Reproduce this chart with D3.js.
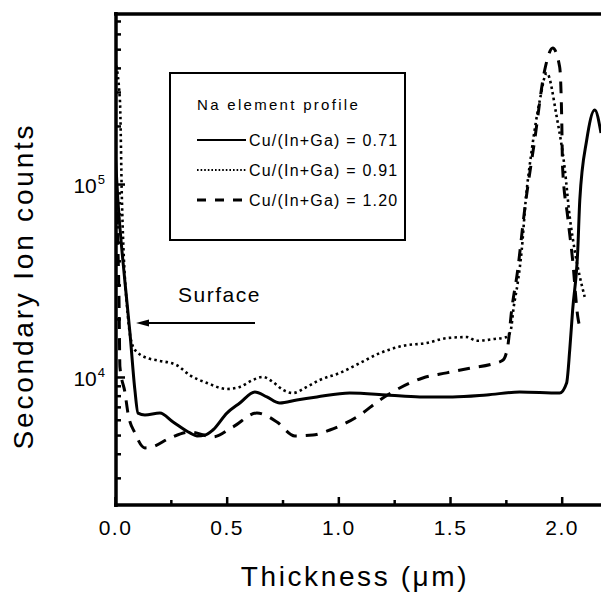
<!DOCTYPE html>
<html>
<head>
<meta charset="utf-8">
<script src="https://cdn.jsdelivr.net/npm/d3@7"></script>
<style>
  body { margin: 0; background: #fff; }
  svg { display: block; font-family: "Liberation Sans", Arial, sans-serif; }
</style>
</head>
<body>
<svg id="chart" width="601" height="595"></svg>
<script>
// Na element profile, depth in um vs secondary ion counts
const depth071 = [0, 0.013, 0.045, 0.067, 0.089, 0.103, 0.134, 0.201, 0.260, 0.336, 0.367, 0.403, 0.438, 0.501, 0.559, 0.626, 0.680, 0.738, 0.814, 0.904, 1.051, 1.217, 1.365, 1.512, 1.664, 1.812, 1.991, 2.022, 2.036, 2.049, 2.072, 2.081, 2.112, 2.148, 2.176];
const counts071 = [150000, 82600, 30700, 16900, 8570, 6500, 6350, 6500, 5850, 5130, 4950, 5000, 5310, 6500, 7330, 8360, 7880, 7330, 7600, 7880, 8260, 8070, 7880, 7880, 8070, 8360, 8260, 9310, 13800, 22200, 45500, 82600, 169000, 242000, 184000];

const depth091 = [0, 0.022, 0.031, 0.058, 0.081, 0.098, 0.148, 0.188, 0.277, 0.336, 0.412, 0.501, 0.559, 0.617, 0.662, 0.707, 0.752, 0.796, 0.859, 0.917, 1.007, 1.096, 1.186, 1.289, 1.396, 1.485, 1.575, 1.620, 1.691, 1.754, 1.772, 1.785, 1.803, 1.821, 1.839, 1.866, 1.902, 1.933, 1.978, 2.013, 2.036, 2.058, 2.103];
const counts091 = [438000, 272000, 82600, 20500, 14300, 13500, 12500, 12200, 11500, 10200, 9310, 8670, 8880, 9650, 10000, 9420, 8570, 8260, 8880, 9650, 10500, 11800, 13300, 14500, 15000, 15900, 16100, 15400, 15700, 16100, 17500, 23000, 30700, 45500, 82600, 150000, 272000, 376000, 222000, 122000, 67500, 45500, 26000];

const depth120 = [0, 0.009, 0.018, 0.022, 0.045, 0.058, 0.089, 0.134, 0.166, 0.246, 0.336, 0.438, 0.528, 0.635, 0.725, 0.805, 0.886, 0.962, 1.096, 1.186, 1.275, 1.378, 1.485, 1.588, 1.691, 1.736, 1.758, 1.776, 1.803, 1.834, 1.879, 1.924, 1.960, 1.991, 2.000, 2.004, 2.027, 2.049, 2.072, 2.085];
const counts120 = [118000, 65000, 25100, 11300, 8260, 6500, 5130, 4290, 4340, 4830, 5190, 4890, 5510, 6500, 5850, 4950, 5000, 5310, 6350, 7600, 8770, 9880, 10500, 11100, 11700, 12200, 14300, 22200, 35800, 73300, 169000, 390000, 507000, 404000, 222000, 122000, 67500, 40400, 20500, 17500];

const seriesLabels = ["Cu/(In+Ga) = 0.71", "Cu/(In+Ga) = 0.91", "Cu/(In+Ga) = 1.20"];
const xTickValues = [0, 0.5, 1.0, 1.5, 2.0];
const xMinorValues = [0.25, 0.75, 1.25, 1.75];
const yTickValues = [1e4, 1e5];
const yMinorValues = [3000, 4000, 5000, 6000, 7000, 8000, 9000, 20000, 30000, 40000, 50000, 60000, 70000, 80000, 90000, 200000, 300000, 400000, 500000, 600000, 700000];

const svg = d3.select("#chart");

var x = d3.scaleLinear().domain([0, 2.176]).range([115, 601]);
var y = d3.scaleLog().domain([2170, 770000]).range([505, 13]);

var series = [
    { depth: depth071, counts: counts071, dash: null, width: 3 },
    { depth: depth091, counts: counts091, dash: "2.5,3.2", width: 2.6 },
    { depth: depth120, counts: counts120, dash: "12,9", width: 3 }
];

svg.append("clipPath").attr("id", "plotClip")
    .append("rect").attr("x", 115).attr("y", 13).attr("width", 486).attr("height", 492);

var line = d3.line()
    .x(d => x(d[0]))
    .y(d => y(d[1]))
    .curve(d3.curveMonotoneX);

svg.append("g").attr("clip-path", "url(#plotClip)")
    .selectAll("path")
    .data(series)
    .enter().append("path")
    .attr("d", s => line(s.depth.map((t, i) => [t, s.counts[i]])))
    .attr("fill", "none")
    .attr("stroke", "#000")
    .attr("stroke-width", s => s.width)
    .attr("stroke-dasharray", s => s.dash)
    .attr("stroke-linejoin", "round");

// x axis ticks (pointing inward)
var xMajor = svg.append("g").attr("transform", "translate(0,505)")
    .call(d3.axisBottom(x).tickValues(xTickValues).tickSizeInner(-8).tickSizeOuter(0)
        .tickPadding(15).tickFormat(d3.format(".1f")));
svg.append("g").attr("transform", "translate(0,505)")
    .call(d3.axisBottom(x).tickValues(xMinorValues).tickSizeInner(-5).tickSizeOuter(0).tickFormat(""));

// y axis ticks
var yMajor = svg.append("g").attr("transform", "translate(116,0)")
    .call(d3.axisLeft(y).tickValues(yTickValues).tickSizeInner(-9).tickSizeOuter(0).tickPadding(11));
svg.append("g").attr("transform", "translate(116,0)")
    .call(d3.axisLeft(y).tickValues(yMinorValues).tickSizeInner(-5).tickSizeOuter(0).tickFormat(""));

svg.selectAll(".domain").remove();
svg.selectAll(".tick line").attr("stroke", "#000").attr("stroke-width", 2.5);

xMajor.selectAll("text")
    .attr("font-size", 21)
    .attr("letter-spacing", 1.5)
    .attr("fill", "#000")
    .style("font-family", "'Liberation Sans', Arial, sans-serif");

yMajor.selectAll("text")
    .attr("font-size", 21)
    .attr("fill", "#000")
    .attr("dy", "0.42em")
    .style("font-family", "'Liberation Sans', Arial, sans-serif")
    .each(function (d) {
        var t = d3.select(this).text(null);
        t.append("tspan").text("10");
        t.append("tspan").attr("font-size", 13).attr("dy", "-0.75em").attr("dx", 1).text(Math.round(Math.log10(d)));
    });

// frame lines
svg.append("line").attr("x1", 116).attr("x2", 116).attr("y1", 12).attr("y2", 507)
    .attr("stroke", "#000").attr("stroke-width", 3.5);
svg.append("line").attr("x1", 114).attr("x2", 601).attr("y1", 505).attr("y2", 505)
    .attr("stroke", "#000").attr("stroke-width", 3.5);
svg.append("line").attr("x1", 114).attr("x2", 601).attr("y1", 14).attr("y2", 14)
    .attr("stroke", "#000").attr("stroke-width", 3.5);

// axis titles
svg.append("text")
    .attr("x", 355).attr("y", 586)
    .attr("text-anchor", "middle")
    .attr("font-size", 28)
    .attr("letter-spacing", 2.6)
    .text("Thickness (\u03bcm)");

svg.append("text")
    .attr("transform", "translate(33,286) rotate(-90)")
    .attr("text-anchor", "middle")
    .attr("font-size", 28)
    .attr("letter-spacing", 2.8)
    .text("Secondary Ion counts");

// surface annotation
svg.append("text")
    .attr("x", 178).attr("y", 302)
    .attr("font-size", 21)
    .attr("letter-spacing", 1.5)
    .text("Surface");
svg.append("line").attr("x1", 143).attr("x2", 255).attr("y1", 323).attr("y2", 323)
    .attr("stroke", "#000").attr("stroke-width", 1.8);
svg.append("path").attr("d", "M136,323 L149,319.5 L149,326.5 Z").attr("fill", "#000");

// legend
var legend = svg.append("g").attr("class", "legend");
legend.append("rect")
    .attr("x", 170).attr("y", 73).attr("width", 235).attr("height", 167)
    .attr("fill", "#fff").attr("stroke", "#000").attr("stroke-width", 2);
legend.append("text")
    .attr("x", 197).attr("y", 110)
    .attr("font-size", 15)
    .attr("letter-spacing", 2.3)
    .text("Na element profile");

var keys = legend.selectAll(".key")
    .data(series)
    .enter().append("g")
    .attr("class", "key")
    .attr("transform", (d, i) => "translate(0," + (140 + i * 30) + ")");

keys.append("line")
    .attr("x1", 197).attr("x2", 246).attr("y1", 0).attr("y2", 0)
    .attr("stroke", "#000")
    .attr("stroke-width", d => d.dash === "12,9" ? 3 : 2)
    .attr("stroke-dasharray", (d, i) => i === 2 ? "9,9" : (d.dash ? "1.6,2" : null));

keys.append("text")
    .attr("x", 249).attr("y", 6)
    .attr("font-size", 16)
    .attr("letter-spacing", 1.2)
    .text((d, i) => seriesLabels[i]);
</script>
</body>
</html>
